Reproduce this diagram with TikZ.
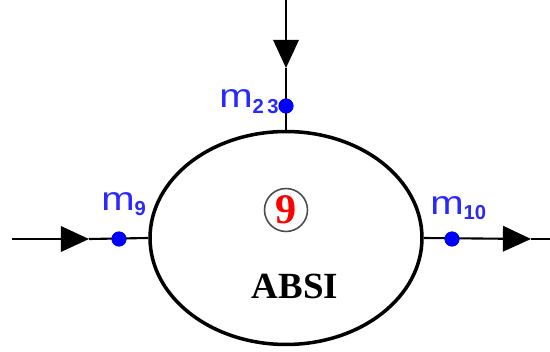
\documentclass[tikz,border=0pt]{standalone}
\usepackage{fontspec}
\setmainfont{Liberation Serif}
\newfontfamily\lblfont{Liberation Sans}
\usetikzlibrary{shapes.geometric,arrows.meta}
\definecolor{lblblue}{RGB}{40,40,255}
\newcommand{\mlab}[1]{\scalebox{1.2}[1]{m}\raisebox{-3pt}{\fontsize{11.5}{11.5}\bfseries\selectfont #1}}
\tikzset{
  flow/.style={line width=1.2pt},
  arr/.style={line width=1.2pt,-{Triangle[length=16pt,width=14.5pt]}},
  dotpt/.style={circle,fill=blue,inner sep=0pt,minimum size=8.5pt},
  mlabel/.style={text=lblblue,font=\lblfont\fontsize{19}{19}\selectfont,inner sep=0pt}
}
\begin{document}
\begin{tikzpicture}[x=0.02cm,y=-0.02cm]
\useasboundingbox (0,0) rectangle (550,351);
\node[ellipse,draw,line width=2pt,minimum width=5.44cm,minimum height=4.26cm,inner sep=0pt] (absi) at (286,238) {};
\node[circle,draw=black!70,line width=0.9pt,minimum size=0.86cm,inner sep=0pt,text=red,font=\bfseries\fontsize{24}{24}\selectfont] (n9) at (286,210) {9};
\node[font=\bfseries\fontsize{21}{21}\selectfont] (lbl) at (295,286) {ABSI};
% top
\coordinate (ts) at (286,0);
\coordinate (tt) at (286,68);
\node[dotpt] (d23) at (286,106) {};
\draw[arr] (ts) -- (tt);
\draw[flow] (tt) -- (absi.north);
\node[dotpt] at (d23) {};
\node[mlabel,anchor=base west] (l23) at (219,108) {\mlab{2\,3}};
% left
\coordinate (ls) at (12,239);
\coordinate (lt) at (89,239);
\node[dotpt] (d9) at (119,239) {};
\draw[arr] (ls) -- (lt);
\draw[flow] (lt) -- (absi.west);
\node[dotpt] at (d9) {};
\node[mlabel,anchor=base west] (l9) at (101,210) {\mlab{9}};
% right
\coordinate (rt) at (531,239);
\coordinate (re) at (550,239);
\node[dotpt] (d10) at (452,239) {};
\draw[arr] (absi.east) -- (rt);
\draw[flow] (rt) -- (re);
\node[dotpt] at (d10) {};
\node[mlabel,anchor=base west] (l10) at (430,214) {\mlab{10}};
\end{tikzpicture}
\end{document}
